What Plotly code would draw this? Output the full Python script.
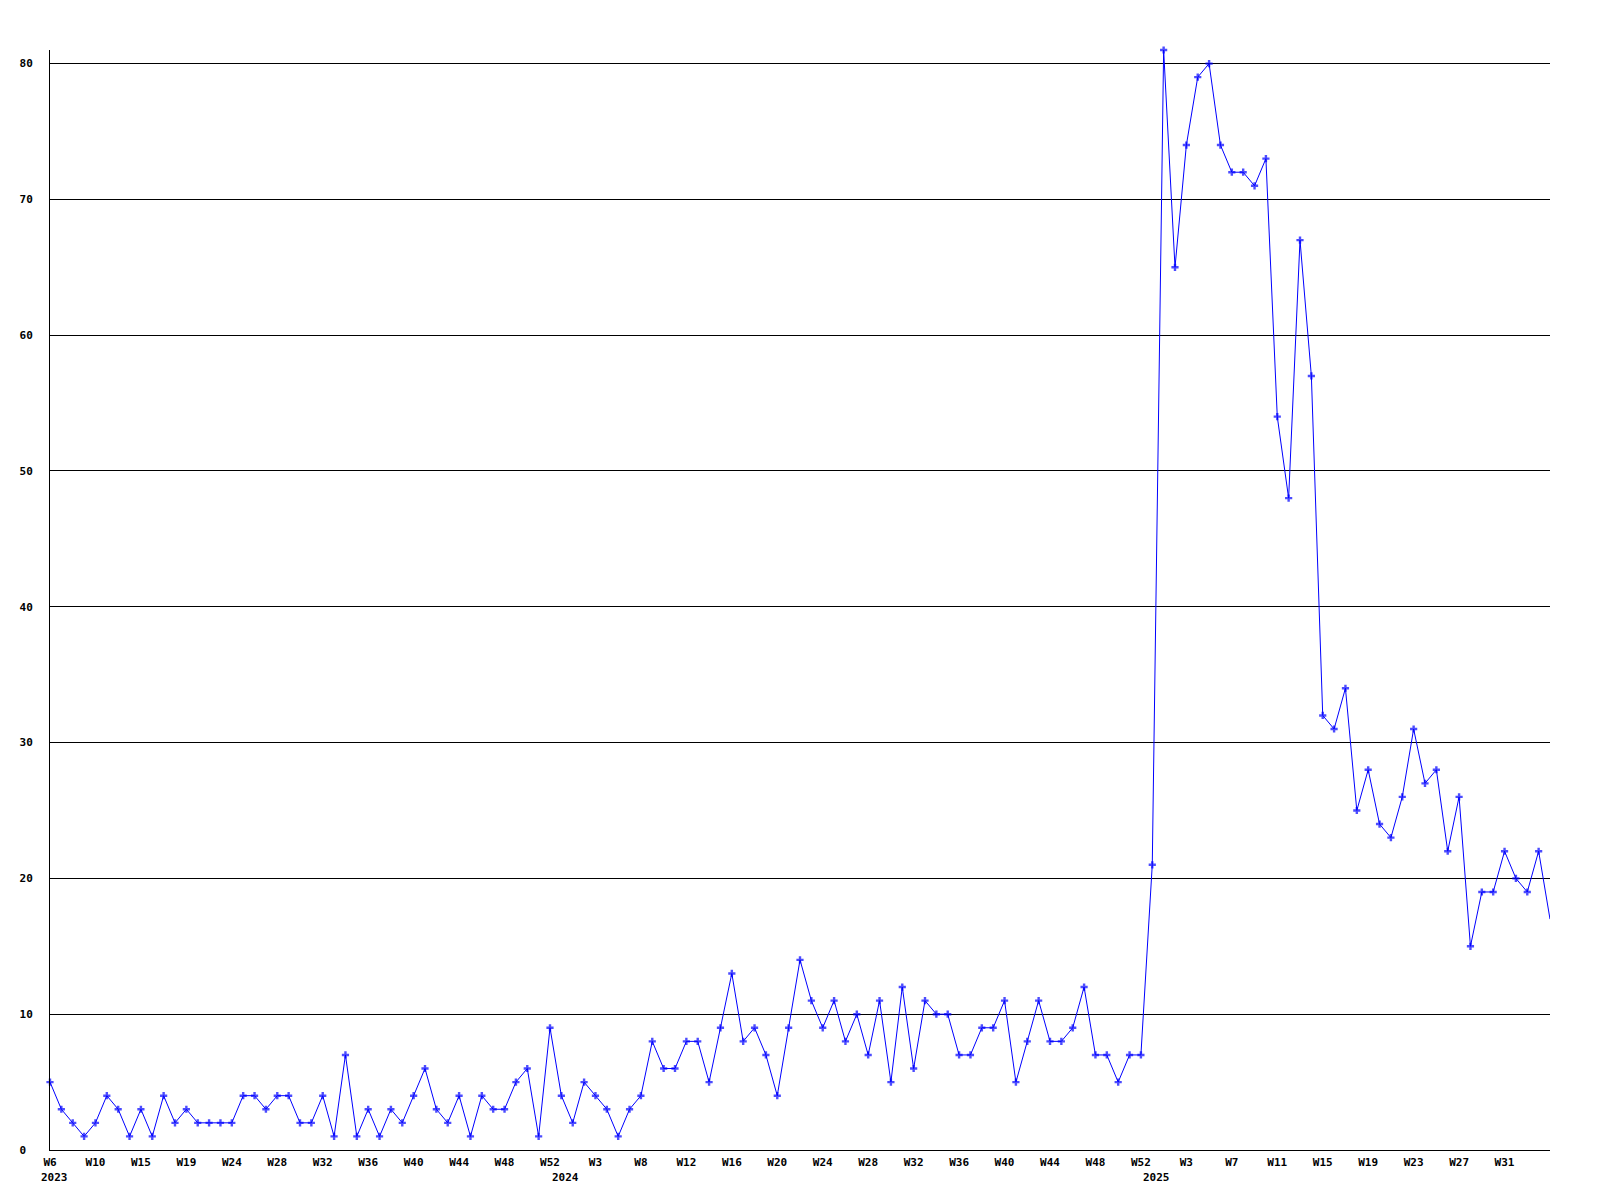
import plotly.graph_objects as go

values = [5, 3, 2, 1, 2, 4, 3, 1, 3, 1, 4, 2, 3, 2, 2, 2, 2, 4, 4, 3,
          4, 4, 2, 2, 4, 1, 7, 1, 3, 1, 3, 2, 4, 6, 3, 2, 4, 1, 4, 3,
          3, 5, 6, 1, 9, 4, 2, 5, 4, 3, 1, 3, 4, 8, 6, 6, 8, 8, 5, 9,
          13, 8, 9, 7, 4, 9, 14, 11, 9, 11, 8, 10, 7, 11, 5, 12, 6, 11, 10, 10,
          7, 7, 9, 9, 11, 5, 8, 11, 8, 8, 9, 12, 7, 7, 5, 7, 7, 21, 81, 65,
          74, 79, 80, 74, 72, 72, 71, 73, 54, 48, 67, 57, 32, 31, 34, 25, 28, 24, 23, 26,
          31, 27, 28, 22, 26, 15, 19, 19, 22, 20, 19, 22, 17]

tick_labels = ["W6", "W10", "W15", "W19", "W24", "W28", "W32", "W36", "W40", "W44", "W48", "W52",
               "W3", "W8", "W12", "W16", "W20", "W24", "W28", "W32", "W36", "W40", "W44", "W48", "W52",
               "W3", "W7", "W11", "W15", "W19", "W23", "W27", "W31"]
tick_step = 4

years = ["2023", "2024", "2025"]
year_start_index = [0, 45, 97]

y_ticks = [0, 10, 20, 30, 40, 50, 60, 70, 80]

x = list(range(len(values)))
marker_sizes = [6] * (len(values) - 1) + [0]

font_family = "DejaVu Sans Mono"

fig = go.Figure()
fig.add_trace(go.Scatter(
    x=x, y=values, mode="lines+markers",
    line=dict(color="#0000FF", width=1),
    marker=dict(color="#0000FF", symbol="cross", size=marker_sizes, line=dict(width=0)),
    cliponaxis=False, showlegend=False, hoverinfo="x+y",
))

annotations = []
for yr, idx in zip(years, year_start_index):
    annotations.append(dict(
        x=idx, y=0, xref="x", yref="paper", text=yr, showarrow=False,
        xanchor="left", yanchor="middle", xshift=-11, yshift=-27,
        font=dict(family=font_family, size=11, color="black", weight="bold"),
    ))

fig.update_layout(
    width=1600, height=1200,
    margin=dict(l=42, r=58, t=42, b=58, pad=0),
    paper_bgcolor="white", plot_bgcolor="white",
    annotations=annotations,
    xaxis=dict(
        range=[0, len(values) - 1],
        tickmode="array",
        tickvals=[i * tick_step for i in range(len(tick_labels))],
        ticktext=tick_labels,
        showgrid=False, zeroline=False,
        showline=True, linecolor="black", linewidth=1,
        ticks="", ticklabelstandoff=2,
        tickfont=dict(family=font_family, size=11, color="black", weight="bold"),
    ),
    yaxis=dict(
        range=[0, 81],
        tickmode="array",
        tickvals=y_ticks,
        ticktext=[("%d" % v) if v >= 10 else ("%d\u00a0" % v) for v in y_ticks],
        showgrid=True, gridcolor="black", gridwidth=1,
        zeroline=False,
        showline=True, linecolor="black", linewidth=1,
        ticks="", ticklabelstandoff=14,
        tickfont=dict(family=font_family, size=11, color="black", weight="bold"),
    ),
)

fig.write_html("out.html")
